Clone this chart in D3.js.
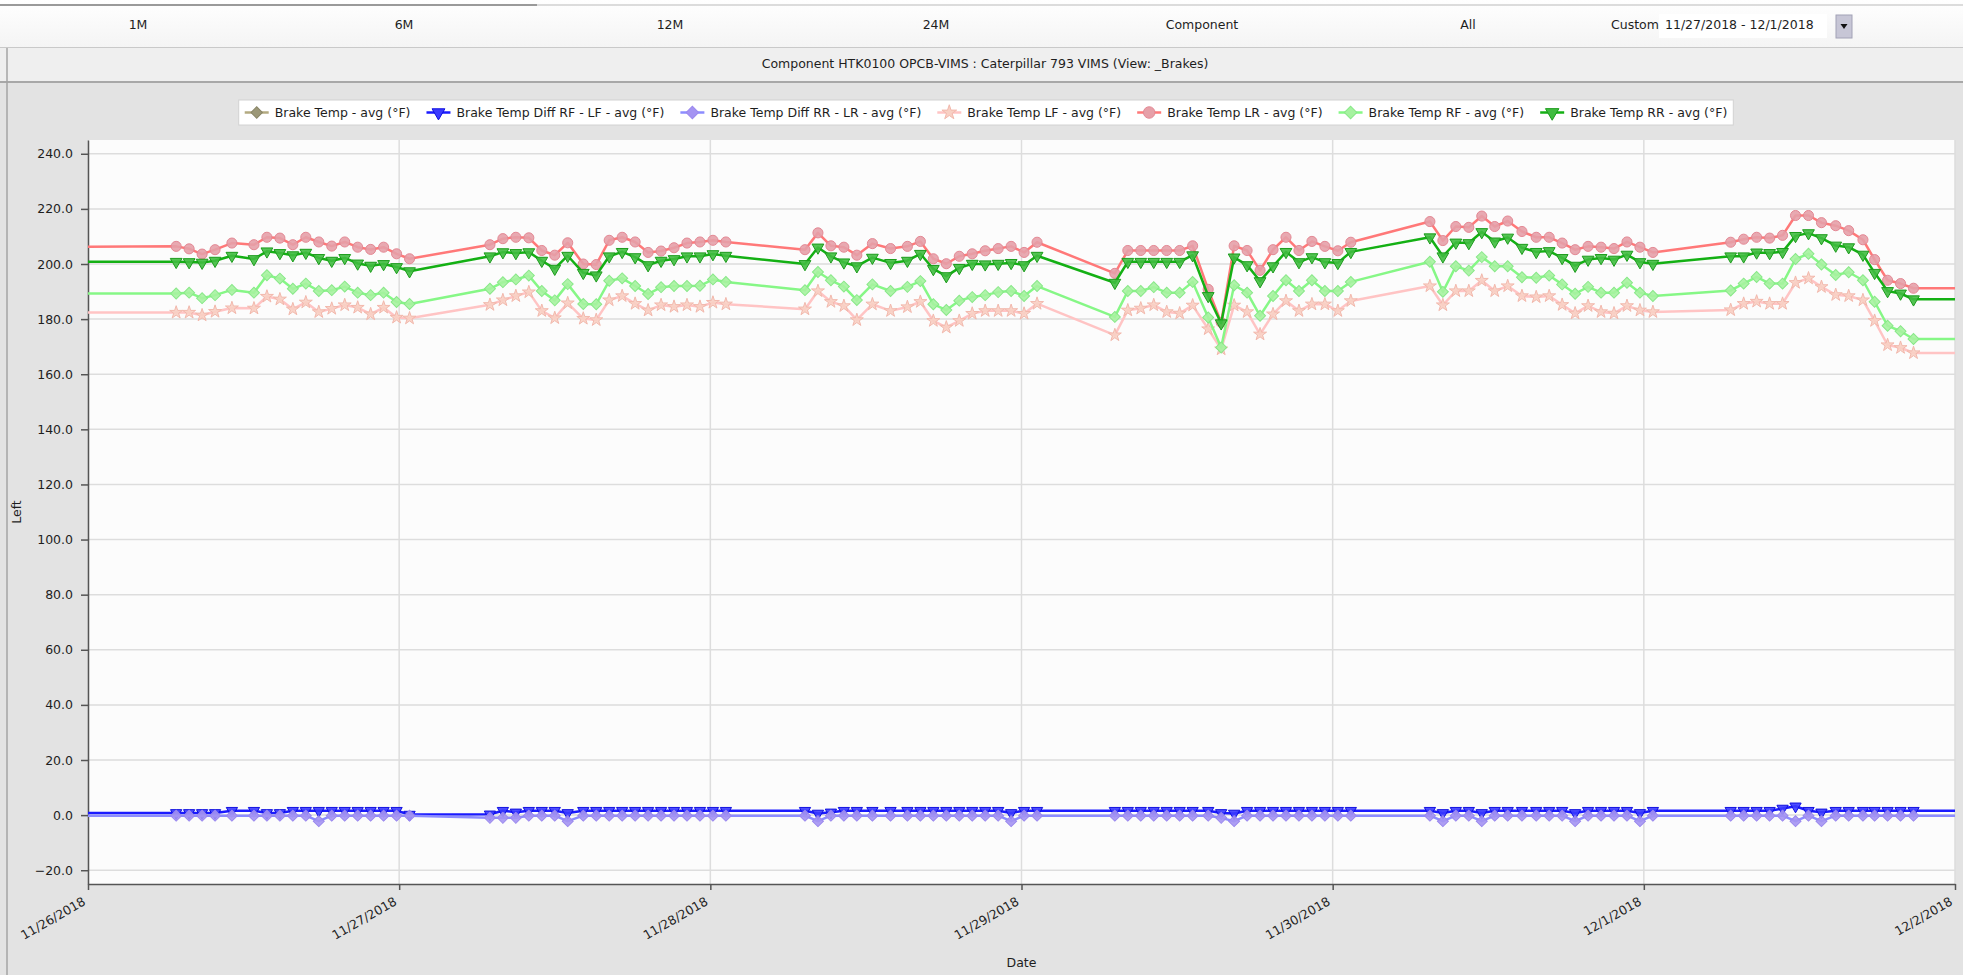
<!DOCTYPE html>
<html>
<head>
<meta charset="utf-8">
<script src="https://cdn.jsdelivr.net/npm/d3@7"></script>
<style>
  body { margin: 0; background: #e3e3e3; font-family: "DejaVu Sans", sans-serif; }
  text { fill: #1e1e1e; }
</style>
</head>
<body>
<div id="chart"></div>
<script>
const width = 1963, height = 975;

// ---- data ----
const periods = ["1M", "6M", "12M", "24M", "Component", "All"];
const customRange = "11/27/2018 - 12/1/2018";
const title = "Component HTK0100 OPCB-VIMS : Caterpillar 793 VIMS (View: _Brakes)";
const dayTicks = ["11/26/2018", "11/27/2018", "11/28/2018", "11/29/2018", "11/30/2018", "12/1/2018", "12/2/2018"];
const yTicks = [-20, 0, 20, 40, 60, 80, 100, 120, 140, 160, 180, 200, 220, 240];

// hours after 11/26/2018 00:00
const hours = [-6,
  6.8, 7.8, 8.8, 9.8, 11.1, 12.8, 13.8, 14.8, 15.8, 16.8, 17.8, 18.8, 19.8, 20.8, 21.8, 22.8, 23.8, 24.8,
  31.0, 32.0, 33.0, 34.0, 35.0, 36.0, 37.0, 38.2, 39.2, 40.2, 41.2, 42.2, 43.2, 44.2, 45.2, 46.2, 47.2, 48.2, 49.2,
  55.3, 56.3, 57.3, 58.3, 59.3, 60.5, 61.9, 63.2, 64.2, 65.2, 66.2, 67.2, 68.2, 69.2, 70.2, 71.2, 72.2, 73.2,
  79.2, 80.2, 81.2, 82.2, 83.2, 84.2, 85.2, 86.4, 87.4, 88.4, 89.4, 90.4, 91.4, 92.4, 93.4, 94.4, 95.4, 96.4, 97.4,
  103.5, 104.5, 105.5, 106.5, 107.5, 108.5, 109.5, 110.6, 111.7, 112.7, 113.7, 114.7, 115.7, 116.7, 117.7, 118.7, 119.7, 120.7,
  126.7, 127.7, 128.7, 129.7, 130.7, 131.7, 132.7, 133.7, 134.8, 135.8, 136.9, 137.8, 138.8, 139.8, 140.8,
  150];

const avgTemp = [];

const diffRfLf = [0.8,
  0.8, 0.8, 0.8, 0.8, 1.6, 1.6, 0.8, 0.8, 1.6, 1.6, 1.6, 1.6, 1.6, 1.6, 1.6, 1.6, 1.6, 0.2,
  0.3, 1.6, 1.0, 1.6, 1.6, 1.6, 0.8, 1.6, 1.6, 1.6, 1.6, 1.6, 1.6, 1.6, 1.6, 1.6, 1.6, 1.6, 1.6,
  1.6, 0.6, 1.0, 1.6, 1.6, 1.6, 1.6, 1.6, 1.6, 1.6, 1.6, 1.6, 1.6, 1.6, 1.6, 0.8, 1.6, 1.6,
  1.6, 1.6, 1.6, 1.6, 1.6, 1.6, 1.6, 1.6, 0.8, 0.6, 1.6, 1.6, 1.6, 1.6, 1.6, 1.6, 1.6, 1.6, 1.6,
  1.6, 0.8, 1.6, 1.6, 0.8, 1.6, 1.6, 1.6, 1.6, 1.6, 1.6, 0.8, 1.6, 1.6, 1.6, 1.6, 0.8, 1.6,
  1.6, 1.6, 1.6, 1.6, 2.4, 3.2, 1.6, 1.0, 1.6, 1.6, 1.6, 1.6, 1.6, 1.6, 1.6,
  1.6];

const diffRrLr = [-0.2,
  -0.2, -0.2, -0.2, -0.2, -0.2, -0.2, -0.2, -0.2, -0.2, -0.2, -2.2, -0.2, -0.2, -0.2, -0.2, -0.2, -0.2, -0.2,
  -1.0, -1.0, -1.0, -0.2, -0.2, -0.2, -2.2, -0.2, -0.2, -0.2, -0.2, -0.2, -0.2, -0.2, -0.2, -0.2, -0.2, -0.2, -0.2,
  -0.2, -2.2, -0.2, -0.2, -0.2, -0.2, -0.2, -0.2, -0.2, -0.2, -0.2, -0.2, -0.2, -0.2, -0.2, -2.2, -0.2, -0.2,
  -0.2, -0.2, -0.2, -0.2, -0.2, -0.2, -0.2, -0.2, -1.0, -2.2, -0.2, -0.2, -0.2, -0.2, -0.2, -0.2, -0.2, -0.2, -0.2,
  -0.2, -2.2, -0.2, -0.2, -2.2, -0.2, -0.2, -0.2, -0.2, -0.2, -0.2, -2.2, -0.2, -0.2, -0.2, -0.2, -2.2, -0.2,
  -0.2, -0.2, -0.2, -0.2, -0.2, -2.2, -0.2, -2.2, -0.2, -0.2, -0.2, -0.2, -0.2, -0.2, -0.2,
  -0.2];

const lfTemp = [182.4,
  182.4, 182.4, 181.4, 182.7, 184.0, 183.9, 188.2, 187.2, 183.6, 186.1, 182.6, 183.8, 185.1, 184.2, 181.8, 184.2, 180.6, 180.3,
  185.2, 186.9, 188.4, 189.8, 183.0, 180.4, 185.8, 180.2, 179.7, 186.9, 188.4, 185.6, 183.2, 185.1, 184.5, 185.1, 184.5, 186.0, 185.4,
  183.6, 190.2, 186.3, 184.8, 179.7, 185.4, 183.0, 184.4, 186.3, 179.4, 177.0, 179.4, 182.0, 183.0, 183.0, 183.0, 182.0, 185.6,
  174.2, 183.2, 183.9, 185.1, 182.6, 182.1, 185.0, 176.4, 169.1, 185.0, 182.6, 174.5, 181.8, 186.6, 183.0, 185.4, 185.4, 183.0, 186.6,
  192.0, 185.1, 190.2, 190.2, 194.0, 190.2, 192.0, 188.4, 188.0, 188.4, 185.2, 182.1, 184.8, 182.6, 182.1, 184.8, 183.2, 182.6,
  183.3, 185.6, 186.4, 185.6, 185.6, 193.2, 194.8, 191.7, 188.8, 188.4, 186.9, 179.4, 170.6, 169.6, 167.7,
  167.7];

const lrTemp = [206.1,
  206.4, 205.5, 203.6, 205.2, 207.6, 207.0, 209.7, 209.4, 207.0, 209.7, 208.0, 206.5, 208.0, 206.1, 205.3, 206.1, 203.7, 201.9,
  207.0, 209.2, 209.7, 209.5, 204.9, 203.2, 207.7, 200.0, 199.8, 208.6, 209.7, 208.0, 204.2, 204.7, 205.9, 207.6, 208.0, 208.6, 208.0,
  205.2, 211.3, 206.6, 206.1, 203.2, 207.4, 205.6, 206.4, 208.2, 201.9, 200.1, 202.8, 203.7, 204.8, 205.6, 206.4, 204.2, 207.9,
  196.6, 204.9, 204.9, 204.9, 204.9, 204.9, 206.6, 190.8, 178.8, 206.6, 204.9, 197.7, 205.2, 209.7, 204.9, 208.2, 206.4, 204.8, 207.9,
  215.4, 208.5, 213.6, 213.3, 217.4, 213.6, 215.6, 211.8, 209.7, 209.7, 207.6, 205.2, 206.4, 206.1, 205.6, 208.0, 206.1, 204.2,
  207.9, 209.0, 209.7, 209.4, 210.4, 217.6, 217.6, 215.0, 213.9, 212.1, 208.8, 201.6, 194.1, 192.9, 191.2,
  191.2];

const rfTemp = [189.3,
  189.3, 189.6, 187.6, 188.7, 190.6, 189.6, 195.9, 194.7, 191.0, 192.9, 190.2, 190.5, 191.8, 189.6, 188.7, 189.6, 186.2, 185.5,
  191.0, 193.4, 194.4, 195.8, 190.2, 186.8, 192.7, 185.5, 185.4, 193.9, 194.8, 192.0, 189.1, 191.6, 192.0, 192.0, 192.1, 194.4, 193.5,
  190.5, 197.1, 194.1, 191.8, 186.9, 192.6, 190.2, 191.7, 193.8, 185.4, 183.3, 186.7, 188.0, 188.7, 189.8, 190.2, 188.4, 192.0,
  180.8, 190.2, 190.2, 191.6, 189.6, 189.6, 193.5, 180.6, 169.7, 192.3, 189.6, 181.2, 188.4, 194.1, 190.2, 194.1, 190.2, 190.2, 193.5,
  200.8, 189.9, 199.2, 197.6, 202.5, 199.2, 199.2, 195.2, 195.0, 195.8, 192.6, 189.2, 191.7, 189.6, 189.6, 193.2, 189.6, 188.4,
  190.4, 192.9, 195.3, 192.9, 192.9, 201.8, 203.7, 199.8, 196.0, 197.0, 194.1, 186.3, 177.6, 175.6, 172.8,
  172.8];

const rrTemp = [200.8,
  200.8, 200.7, 200.5, 201.2, 203.0, 201.8, 204.6, 204.0, 203.2, 204.1, 202.2, 201.2, 202.2, 200.2, 199.4, 200.0, 198.9, 197.4,
  202.8, 204.3, 204.0, 204.3, 201.2, 198.3, 203.0, 196.8, 195.9, 202.8, 204.4, 202.5, 199.6, 201.2, 201.8, 202.8, 202.8, 203.6, 203.0,
  200.0, 206.0, 202.8, 200.6, 199.2, 202.3, 200.4, 201.2, 203.7, 198.2, 195.6, 198.6, 200.1, 199.9, 200.1, 200.4, 199.6, 203.0,
  193.2, 200.8, 200.8, 200.8, 200.8, 200.8, 203.2, 188.4, 178.5, 202.4, 199.6, 193.8, 199.2, 204.4, 200.7, 202.5, 200.7, 200.4, 204.4,
  209.7, 202.8, 207.8, 207.6, 211.6, 208.2, 209.6, 205.9, 204.4, 204.7, 202.2, 199.4, 201.6, 202.2, 201.6, 203.4, 200.7, 200.1,
  202.8, 202.8, 204.2, 204.0, 204.4, 210.2, 211.2, 209.4, 206.7, 206.1, 203.4, 196.8, 190.2, 189.3, 187.2,
  187.2];

const seriesNames = [
  "Brake Temp - avg (°F)",
  "Brake Temp Diff RF - LF - avg (°F)",
  "Brake Temp Diff RR - LR - avg (°F)",
  "Brake Temp LF - avg (°F)",
  "Brake Temp LR - avg (°F)",
  "Brake Temp RF - avg (°F)",
  "Brake Temp RR - avg (°F)"
];
const seriesValues = [avgTemp, diffRfLf, diffRrLr, lfTemp, lrTemp, rfTemp, rrTemp];

// ---- styles ----
const styles = [
  { line: "#b3aa80", fill: "#9c9878", stroke: "#8a8668", shape: d3.symbolSquare, rot: 45, size: 50 },
  { line: "#1a1aff", fill: "#3a3aff", stroke: "#1010e0", shape: d3.symbolTriangle, rot: 180, size: 55 },
  { line: "#8c8cff", fill: "#a493f2", stroke: "#9a88ee", shape: d3.symbolSquare, rot: 45, size: 60 },
  { line: "#ffc4c4", fill: "#f8d0c4", stroke: "#f2b8ac", shape: d3.symbolStar, rot: 0, size: 52 },
  { line: "#ff7878", fill: "#e6a0a8", stroke: "#e48894", shape: d3.symbolCircle, rot: 0, size: 80 },
  { line: "#86f786", fill: "#a6f2a0", stroke: "#88e888", shape: d3.symbolSquare, rot: 45, size: 60 },
  { line: "#14b014", fill: "#40bc40", stroke: "#1c9c1c", shape: d3.symbolTriangle, rot: 180, size: 60 }
];

const t0 = new Date(2018, 10, 26);
const toDate = h => new Date(t0.getTime() + h * 3600 * 1000);
const parseDay = d3.timeParse("%m/%d/%Y");

const svg = d3.select("#chart")
  .append("svg")
  .attr("width", width)
  .attr("height", height)
  .style("display", "block");

const defs = svg.append("defs");
const topGrad = defs.append("linearGradient").attr("id", "topGrad").attr("x1", 0).attr("x2", 0).attr("y1", 0).attr("y2", 1);
topGrad.append("stop").attr("offset", "0%").attr("stop-color", "#ffffff");
topGrad.append("stop").attr("offset", "100%").attr("stop-color", "#f4f4f4");

// ================ header ==================
svg.append("rect").attr("x", 0).attr("y", 0).attr("width", width).attr("height", 48).attr("fill", "url(#topGrad)");
svg.append("line").attr("x1", 0).attr("x2", width).attr("y1", 5).attr("y2", 5).attr("stroke", "#dcdcdc").attr("stroke-width", 2);
svg.append("line").attr("x1", 0).attr("x2", 537).attr("y1", 5).attr("y2", 5).attr("stroke", "#9a9a9a").attr("stroke-width", 2);
svg.append("line").attr("x1", 0).attr("x2", width).attr("y1", 47.5).attr("y2", 47.5).attr("stroke", "#c9c9c9");

svg.selectAll(".period")
  .data(periods)
  .enter()
  .append("text")
  .classed("period", true)
  .attr("x", (d, i) => 138 + i * 266)
  .attr("y", 29)
  .attr("text-anchor", "middle")
  .style("font-size", "12.5px")
  .text(d => d);

svg.append("text").attr("x", 1611).attr("y", 29).style("font-size", "12.5px").text("Custom");
svg.append("rect").attr("x", 1659).attr("y", 14).attr("width", 168).attr("height", 24).attr("fill", "#ffffff");
svg.append("text").attr("x", 1665).attr("y", 29).style("font-size", "12.5px").text(customRange);
svg.append("rect").attr("x", 1836).attr("y", 15).attr("width", 16).attr("height", 23)
  .attr("fill", "#c7c6d6").attr("stroke", "#a2a2b6");
svg.append("path").attr("d", "M1840.5,24 L1847.5,24 L1844,29 Z").attr("fill", "#111");

// title bar
svg.append("rect").attr("x", 0).attr("y", 48).attr("width", width).attr("height", 34).attr("fill", "#efefef");
svg.append("text").attr("x", 985).attr("y", 68).attr("text-anchor", "middle").style("font-size", "12.5px").text(title);
svg.append("line").attr("x1", 0).attr("x2", width).attr("y1", 82).attr("y2", 82).attr("stroke", "#a8a8a8").attr("stroke-width", 2);
svg.append("rect").attr("x", 0).attr("y", 83).attr("width", width).attr("height", height - 83).attr("fill", "#e3e3e3");
svg.append("line").attr("x1", 7).attr("x2", 7).attr("y1", 48).attr("y2", height).attr("stroke", "#a4a4a4").attr("stroke-width", 1.5);

// ================ plot ==================
const plot = { left: 88, right: 1955, top: 140, bottom: 884 };

const x = d3.scaleTime()
  .domain([parseDay(dayTicks[0]), parseDay(dayTicks[dayTicks.length - 1])])
  .range([plot.left, plot.right]);

const y = d3.scaleLinear()
  .domain([-25, 245])
  .range([plot.bottom, plot.top]);

svg.append("rect")
  .attr("x", plot.left).attr("y", plot.top)
  .attr("width", plot.right - plot.left).attr("height", plot.bottom - plot.top)
  .attr("fill", "#fcfcfc");

defs.append("clipPath").attr("id", "plotClip")
  .append("rect")
  .attr("x", plot.left).attr("y", plot.top)
  .attr("width", plot.right - plot.left).attr("height", plot.bottom - plot.top);

// gridlines
svg.append("g")
  .selectAll("line")
  .data(yTicks)
  .enter()
  .append("line")
  .attr("x1", plot.left).attr("x2", plot.right)
  .attr("y1", d => y(d)).attr("y2", d => y(d))
  .attr("stroke", "#dddddd").attr("stroke-width", 1.5);

svg.append("g")
  .selectAll("line")
  .data(dayTicks.map(parseDay))
  .enter()
  .append("line")
  .attr("x1", d => x(d)).attr("x2", d => x(d))
  .attr("y1", plot.top).attr("y2", plot.bottom)
  .attr("stroke", "#dddddd").attr("stroke-width", 1.5);

// axes
const yAxis = svg.append("g")
  .attr("transform", `translate(${plot.left},0)`)
  .call(d3.axisLeft(y).tickValues(yTicks).tickFormat(d3.format(".1f")).tickSizeInner(7).tickSizeOuter(0).tickPadding(8));
yAxis.select(".domain").attr("stroke", "#555").attr("stroke-width", 1.5);
yAxis.selectAll(".tick line").attr("stroke", "#555").attr("stroke-width", 1.5);
yAxis.selectAll("text").style("font-size", "12.5px").style("font-family", "DejaVu Sans").attr("fill", "#222");

const xAxis = svg.append("g")
  .attr("transform", `translate(0,${plot.bottom})`)
  .call(d3.axisBottom(x).tickValues(dayTicks.map(parseDay)).tickFormat(d3.timeFormat("%-m/%-d/%Y")).tickSizeInner(6).tickSizeOuter(0));
xAxis.select(".domain").attr("stroke", "#555").attr("stroke-width", 1.5);
xAxis.selectAll(".tick line").attr("stroke", "#555").attr("stroke-width", 1.5);
xAxis.selectAll("text")
  .style("font-size", "12.5px").style("font-family", "DejaVu Sans").attr("fill", "#222")
  .attr("text-anchor", "end")
  .attr("y", 0).attr("dy", 0)
  .attr("transform", "translate(-2,20) rotate(-30)");

svg.append("text")
  .attr("transform", `translate(21,${(plot.top + plot.bottom) / 2}) rotate(-90)`)
  .attr("text-anchor", "middle")
  .style("font-size", "12.5px")
  .text("Left");

svg.append("text")
  .attr("x", (plot.left + plot.right) / 2)
  .attr("y", 967)
  .attr("text-anchor", "middle")
  .style("font-size", "12.5px")
  .text("Date");

// ================ series ==================
const line = d3.line()
  .x(d => x(d.t))
  .y(d => y(d.v));

const seriesG = svg.append("g").attr("clip-path", "url(#plotClip)");

seriesValues.forEach((vals, i) => {
  const st = styles[i];
  const pts = vals.map((v, j) => ({ t: toDate(hours[j]), v: v }));
  const g = seriesG.append("g");
  g.append("path")
    .datum(pts)
    .attr("d", line)
    .attr("fill", "none")
    .attr("stroke", st.line)
    .attr("stroke-width", 2.5)
    .attr("stroke-linejoin", "round");
  g.selectAll("path.mark")
    .data(pts.filter(d => d.t >= x.domain()[0] && d.t <= x.domain()[1]))
    .enter()
    .append("path")
    .classed("mark", true)
    .attr("d", d3.symbol().type(st.shape).size(st.size))
    .attr("transform", d => `translate(${x(d.t)},${y(d.v)}) rotate(${st.rot})`)
    .attr("fill", st.fill)
    .attr("fill-opacity", 0.9)
    .attr("stroke", st.stroke)
    .attr("stroke-width", 1);
});

// ================ legend ==================
const legend = svg.append("g");
const legendBox = legend.append("rect")
  .attr("y", 100).attr("height", 25)
  .attr("fill", "#ffffff").attr("stroke", "#d2d2d2");

let cx = 0;
const items = [];
seriesNames.forEach((name, i) => {
  const st = styles[i];
  const item = legend.append("g");
  item.append("line").attr("x1", 0).attr("x2", 24).attr("y1", 0).attr("y2", 0)
    .attr("stroke", st.line).attr("stroke-width", 2.5);
  item.append("path")
    .attr("d", d3.symbol().type(st.shape).size(st.size * 1.3))
    .attr("transform", `translate(12,0) rotate(${st.rot})`)
    .attr("fill", st.fill).attr("stroke", st.stroke);
  const txt = item.append("text").attr("x", 30).attr("y", 4.5).style("font-size", "12.5px").text(name);
  const w = 30 + txt.node().getComputedTextLength();
  items.push({ item, x: cx });
  cx += w + 16;
});
const legendW = cx - 16 + 12;
const legendLeft = 986 - legendW / 2;
legendBox.attr("x", legendLeft).attr("width", legendW);
items.forEach(d => d.item.attr("transform", `translate(${legendLeft + 6 + d.x},112.5)`));
</script>
</body>
</html>
